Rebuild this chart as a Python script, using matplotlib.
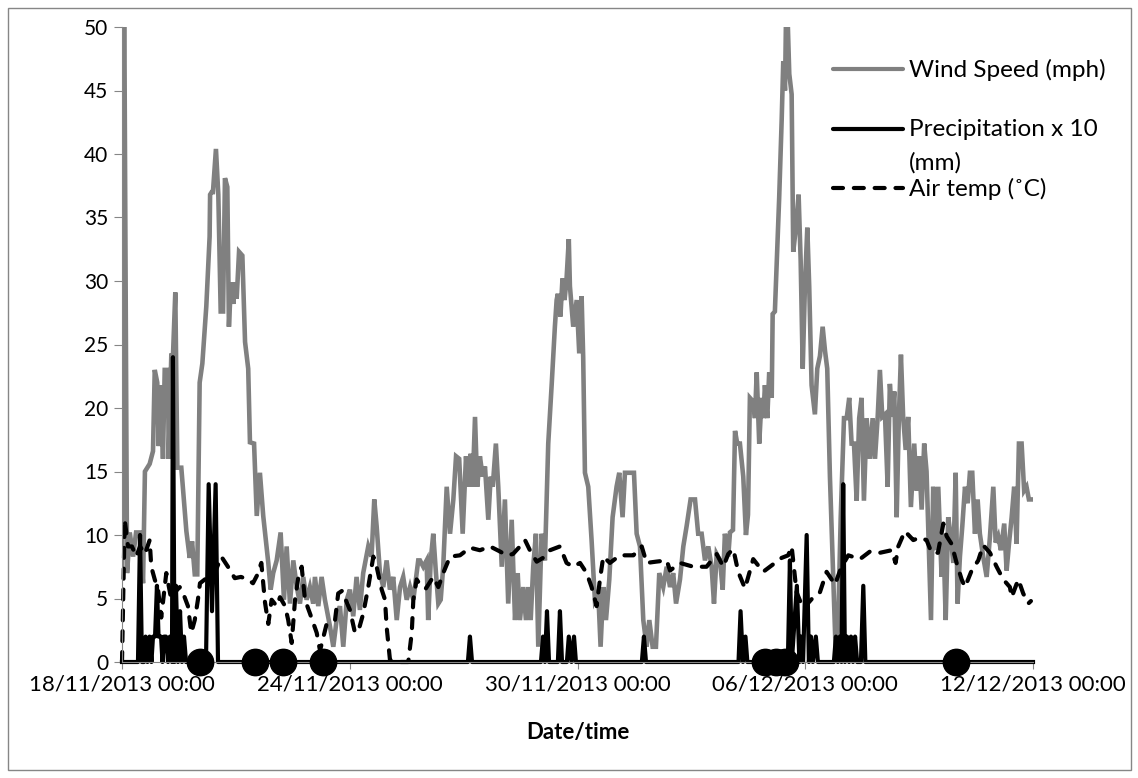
import matplotlib
matplotlib.use('Agg')
import matplotlib.pyplot as plt
from matplotlib.lines import Line2D
from matplotlib.patches import Rectangle
import numpy as np
import pandas as pd

# Data: times are hours after 18/11/2013 00:00
start = pd.Timestamp('2013-11-18 00:00')

wind_hours = [
    0.0, 1.3, 3.2, 4.9, 7.0, 8.9, 11.2, 13.3, 14.5, 17.5, 19.6, 20.7, 22.3, 23.2, 24.5, 25.9,
    27.0, 29.1, 29.5, 31.2, 32.2, 33.7, 35.0, 37.5, 40.7, 42.8, 44.3, 46.0, 47.6, 49.1, 50.8, 53.3,
    55.4, 55.7, 56.7, 57.5, 59.4, 60.9, 62.4, 63.9, 65.1, 66.6, 67.6, 68.9, 70.4, 71.4, 72.5, 74.0,
    76.1, 77.8, 79.8, 80.9, 83.5, 85.2, 87.2, 89.3, 92.5, 94.0, 95.6, 97.8, 100.3, 102.4, 104.1, 106.2,
    108.3, 110.4, 112.5, 114.6, 116.7, 118.8, 120.9, 122.0, 124.1, 126.2, 128.3, 131.5, 133.6, 135.7, 137.8, 139.9,
    142.1, 144.1, 146.2, 148.3, 150.4, 152.5, 155.7, 157.8, 159.5, 161.0, 163.1, 165.2, 167.3, 169.4, 171.5, 173.7,
    175.8, 177.8, 180.0, 182.1, 184.2, 187.3, 188.4, 190.5, 192.6, 193.6, 195.2, 196.8, 198.5, 200.0, 201.5, 203.1,
    205.3, 207.4, 209.5, 211.2, 213.2, 215.4, 217.5, 218.9, 220.5, 221.7, 223.2, 224.6, 226.3, 228.0, 229.5, 231.6,
    233.1, 234.4, 236.4, 237.9, 240.1, 242.1, 244.2, 246.4, 248.5, 250.2, 251.6, 253.7, 255.4, 256.9, 258.4, 260.0,
    261.7, 263.2, 265.3, 267.4, 269.5, 271.7, 273.7, 274.8, 275.6, 277.2, 278.5, 279.8, 281.0, 282.5, 283.2, 285.3,
    287.5, 289.1, 290.6, 291.6, 292.7, 294.8, 296.9, 299.0, 301.1, 302.6, 304.3, 306.0, 308.1, 310.2, 312.7, 314.4,
    316.5, 318.0, 320.1, 322.2, 323.7, 325.4, 327.5, 329.6, 331.7, 333.4, 335.5, 337.6, 339.7, 342.2, 344.4, 346.5,
    348.5, 350.3, 352.8, 354.9, 357.0, 359.5, 362.3, 364.3, 366.5, 368.6, 370.7, 372.8, 374.3, 376.0, 378.1, 379.8,
    381.2, 383.3, 384.4, 386.3, 387.6, 389.0, 390.7, 392.8, 394.5, 395.8, 397.0, 399.1, 400.2, 401.3, 402.9, 404.4,
    405.5, 406.5, 408.0, 409.2, 410.8, 411.4, 412.8, 414.3, 415.5, 417.1, 418.1, 419.2, 419.8, 420.9, 421.9, 423.4,
    424.4, 426.1, 427.8, 429.1, 430.4, 431.8, 433.3, 434.5, 436.0, 438.1, 439.6, 441.3, 443.0, 444.5, 445.9, 447.6,
    449.7, 451.4, 452.8, 454.4, 456.5, 458.2, 459.8, 461.3, 462.8, 464.5, 466.1, 467.6, 469.1, 470.8, 472.9, 474.6,
    476.1, 477.8, 479.2, 480.7, 482.4, 484.1, 485.5, 487.0, 488.3, 489.8, 491.2, 492.5, 493.9, 495.5, 497.1, 498.8,
    500.9, 502.4, 503.9, 505.6, 507.2, 508.7, 510.2, 511.5, 512.9, 514.5, 516.1, 518.2, 519.3, 520.8, 522.4, 524.1,
    525.6, 527.1, 528.3, 529.8, 531.3, 533.0, 534.7, 536.1, 537.6, 539.3, 541.0, 542.4, 544.5, 546.7, 548.8, 550.9,
    552.4, 554.0, 555.7, 557.8, 559.3, 560.8, 562.5, 564.1, 565.6, 567.1, 568.8, 570.4, 571.9, 573.4, 575.1,
]
wind_speed = [
    7.0, 55.0, 7.0, 10.2, 8.3, 10.2, 10.2, 6.2, 15.0, 15.6, 16.6, 23.0, 22.0, 17.0, 21.8, 16.0,
    23.0, 23.0, 16.0, 24.3, 24.0, 29.1, 15.3, 15.3, 10.3, 8.2, 9.5, 6.9, 6.9, 22.0, 23.5, 28.0,
    33.5, 36.8, 37.0, 37.0, 40.4, 36.8, 27.6, 27.6, 38.1, 37.4, 26.4, 29.9, 28.2, 29.9, 28.6, 32.3,
    32.0, 25.2, 23.1, 17.3, 17.2, 11.5, 14.9, 11.5, 7.8, 5.7, 7.0, 8.0, 10.2, 4.9, 9.1, 4.6,
    8.0, 6.0, 4.6, 6.7, 4.9, 5.9, 4.6, 6.7, 4.4, 6.7, 4.9, 2.8, 1.2, 3.3, 4.4, 1.2,
    4.9, 5.7, 3.6, 6.7, 4.1, 7.0, 9.1, 8.3, 12.8, 10.7, 7.0, 5.9, 8.0, 5.7, 6.7, 3.3,
    5.9, 6.7, 4.9, 5.9, 4.9, 8.0, 8.0, 7.5, 8.0, 3.3, 8.0, 10.1, 7.0, 4.6, 4.9, 7.5,
    13.8, 10.1, 12.8, 16.2, 16.0, 10.1, 16.2, 13.8, 16.4, 13.8, 19.3, 13.8, 16.2, 14.6, 15.4, 11.2,
    14.6, 13.8, 17.2, 13.8, 7.5, 12.8, 4.6, 11.2, 3.3, 7.0, 3.3, 5.9, 3.3, 5.9, 3.3, 7.5,
    10.1, 1.2, 10.1, 8.0, 17.2, 21.9, 26.4, 28.5, 29.0, 27.2, 30.2, 28.5, 30.0, 33.3, 29.6, 26.4,
    28.5, 24.3, 28.8, 24.0, 14.9, 13.8, 9.6, 4.9, 5.5, 1.2, 5.9, 3.3, 6.5, 11.4, 13.8, 14.9,
    11.4, 14.9, 14.9, 14.9, 14.9, 10.1, 9.1, 3.3, 1.2, 3.3, 1.2, 1.2, 7.0, 5.9, 7.5, 5.9,
    7.0, 4.6, 6.5, 9.1, 10.7, 12.8, 12.8, 10.1, 10.1, 8.0, 9.1, 7.5, 4.6, 8.5, 8.0, 5.7,
    10.1, 8.3, 10.2, 10.4, 18.2, 17.2, 17.2, 14.6, 10.0, 11.6, 20.8, 20.5, 19.2, 22.8, 17.2, 20.8,
    19.2, 21.8, 19.2, 22.8, 20.8, 27.4, 27.6, 32.6, 36.5, 42.7, 47.3, 45.0, 50.5, 50.5, 46.3, 44.7,
    32.3, 34.2, 36.8, 31.6, 23.1, 29.6, 34.2, 29.6, 21.8, 19.5, 23.1, 24.1, 26.4, 24.5, 23.1, 14.6,
    6.5, 0.2, 3.0, 11.3, 19.2, 19.2, 20.8, 17.2, 17.2, 12.7, 19.2, 20.8, 12.7, 19.2, 16.0, 19.2,
    16.0, 19.3, 23.0, 19.3, 19.5, 13.8, 21.9, 19.3, 21.3, 11.4, 19.3, 24.2, 19.3, 16.7, 19.3, 12.2,
    17.2, 13.5, 16.2, 12.0, 17.2, 15.0, 8.8, 3.3, 13.8, 8.8, 13.8, 6.7, 10.1, 3.3, 11.4, 9.8,
    7.8, 14.9, 4.6, 8.3, 10.7, 13.8, 12.5, 14.9, 14.9, 10.1, 12.8, 10.1, 8.3, 6.7, 9.9, 13.8,
    9.4, 9.9, 8.8, 10.9, 7.2, 9.3, 11.4, 13.8, 9.3, 17.2, 17.2, 13.5, 13.8, 12.8, 12.8,
]

precip_hours = [
    0.0, 10.1, 11.4, 12.6, 13.9, 14.9, 16.1, 17.4, 18.6, 19.6, 20.9, 22.1, 23.1, 24.7, 25.6, 26.6,
    27.8, 29.1, 30.3, 31.6, 32.2, 33.2, 34.1, 35.4, 36.7, 37.9, 39.2, 40.5, 53.1, 54.8, 56.9, 59.2,
    60.7, 218.7, 220.0, 221.3, 264.9, 266.2, 267.4, 268.7, 270.0, 275.6, 276.9, 278.2, 281.3, 282.5,
    284.2, 285.8, 287.0, 328.7, 330.0, 331.3, 389.8, 391.1, 392.6, 394.2, 395.4, 421.0, 422.3, 423.5,
    426.7, 428.3, 429.3, 430.6, 432.9, 434.3, 435.6, 436.8, 438.7, 440.0, 450.1, 451.4, 452.6, 453.9,
    454.9, 456.0, 457.1, 458.4, 459.7, 460.9, 462.2, 463.5, 464.8, 467.2, 468.7, 470.0, 576.0,
]
precip_x10 = [
    0, 0, 10, 0, 0, 2, 0, 2, 0, 2, 2, 6, 2, 2, 0, 2,
    2, 0, 2, 0, 24, 0, 6, 0, 4, 0, 2, 0, 0, 14, 4, 14,
    0, 0, 2, 0, 0, 2, 0, 4, 0, 0, 4, 0, 0, 2,
    0, 2, 0, 0, 2, 0, 0, 4, 0, 2, 0, 0, 8, 0,
    6, 0, 2, 0, 10, 0, 2, 0, 2, 0, 0, 2, 0, 2,
    0, 14, 0, 2, 0, 2, 0, 2, 0, 0, 6, 0, 0,
]

temp_hours = [
    0.0, 1.7, 3.8, 6.3, 9.0, 11.4, 14.5, 17.5, 18.5, 20.7, 22.8, 24.8, 28.0, 31.2, 33.5, 36.5,
    39.6, 41.7, 43.8, 46.0, 48.0, 49.3, 54.4, 58.6, 62.8, 67.0, 71.3, 75.2, 79.7, 82.8, 85.3, 88.1,
    90.4, 92.5, 94.6, 97.8, 99.9, 103.1, 105.1, 107.3, 109.4, 111.5, 113.6, 115.7, 118.9, 123.1, 125.2, 129.4,
    134.7, 136.7, 139.1, 144.1, 147.3, 149.8, 152.5, 155.7, 158.9, 161.0, 164.2, 166.3, 167.3, 169.4, 171.5, 181.0,
    183.2, 184.2, 186.3, 189.5, 192.2, 196.8, 200.0, 203.1, 207.4, 213.7, 220.0, 226.3, 232.7, 239.0, 243.2, 247.2,
    251.6, 254.8, 257.9, 262.2, 266.2, 270.6, 276.9, 281.1, 285.3, 289.6, 293.8, 296.9, 300.1, 302.2, 304.3, 308.5,
    314.8, 323.3, 328.6, 331.7, 337.6, 344.4, 346.5, 352.8, 361.2, 369.6, 376.0, 380.2, 383.3, 386.5, 389.6, 393.9,
    399.1, 405.4, 411.8, 417.1, 421.2, 423.4, 426.5, 430.7, 437.1, 441.3, 445.5, 450.8, 454.6, 459.2, 466.6, 472.9,
    479.2, 486.6, 489.1, 490.8, 495.0, 500.3, 504.5, 508.7, 511.9, 515.9, 519.3, 521.4, 524.5, 527.7, 530.9, 533.0,
    537.2, 541.4, 544.5, 548.8, 553.0, 557.2, 561.4, 562.5, 566.7, 569.8, 573.0, 574.7,
]
air_temp = [
    0.0, 11.2, 9.1, 9.1, 8.3, 9.1, 8.5, 9.6, 7.5, 6.5, 5.7, 3.5, 7.0, 4.9, 5.5, 5.9,
    5.1, 4.4, 2.3, 3.3, 4.9, 6.2, 6.7, 7.0, 8.3, 7.5, 6.6, 6.7, 6.5, 6.2, 6.8, 7.8,
    4.7, 3.0, 4.9, 4.4, 5.1, 4.4, 3.3, 1.5, 4.9, 6.7, 7.5, 4.9, 3.8, 2.3, 0.9, 3.0,
    3.3, 5.4, 5.6, 4.1, 2.3, 2.6, 3.8, 5.9, 8.3, 7.5, 5.7, 4.9, 2.8, 0.2, 0.0, 0.0,
    2.3, 4.9, 6.5, 5.9, 5.8, 6.7, 5.9, 7.0, 8.3, 8.4, 9.0, 8.8, 9.1, 8.7, 8.4, 8.5,
    9.1, 9.6, 8.8, 7.9, 8.2, 8.8, 9.1, 7.8, 7.5, 7.8, 7.0, 5.9, 4.4, 6.5, 8.3, 7.8,
    8.4, 8.4, 9.1, 7.8, 7.9, 8.0, 7.2, 7.8, 7.5, 7.5, 8.5, 7.5, 8.5, 8.9, 7.1, 5.8,
    8.1, 7.1, 7.7, 8.2, 8.4, 9.1, 5.5, 4.2, 5.1, 5.5, 7.1, 6.1, 7.4, 8.4, 8.1, 8.7,
    8.6, 8.8, 7.8, 9.1, 10.3, 9.6, 9.8, 9.6, 8.6, 8.6, 10.9, 9.9, 9.3, 7.8, 6.5, 5.9,
    7.2, 8.0, 9.2, 8.6, 7.5, 6.5, 5.9, 5.1, 6.5, 5.4, 4.6, 4.8,
]

# event markers drawn as black dots on the zero line
event_hours = [49.1, 83.9, 102.0, 127.3, 406.5, 413.5, 419.1, 527.1]
event_level = [0, 0, 0, 0, 0, 0, 0, 0]

tick_days = [0, 6, 12, 18, 24]
tick_labels = ['18/11/2013 00:00', '24/11/2013 00:00', '30/11/2013 00:00',
               '06/12/2013 00:00', '12/12/2013 00:00']
y_ticks = list(range(0, 55, 5))
legend_labels = ['Wind Speed (mph)', 'Precipitation x 10', '(mm)', 'Air temp (˚C)']


def to_dates(hours):
    return (start + pd.to_timedelta(np.array(hours), unit='h')).values


plt.rcParams['font.family'] = ['Lato', 'DejaVu Sans']
plt.rcParams['font.size'] = 16

W, H = 1138, 778
fig = plt.figure(figsize=(W / 100, H / 100), dpi=100)
ax = fig.add_axes([122 / W, 1 - 662 / H, (1033 - 122) / W, (662 - 27) / H])

grey = '#808080'
axis_grey = '#868686'
dash = (2.4, 2.6)

ax.plot(to_dates(wind_hours), wind_speed, color=grey, lw=3.3, solid_joinstyle='miter')
ax.plot(to_dates(precip_hours), precip_x10, color='black', lw=3.0, clip_on=False)
ax.plot(to_dates(temp_hours), air_temp, color='black', lw=3.0, dashes=dash,
        dash_capstyle='round', clip_on=False)
ax.plot(to_dates(event_hours), event_level, 'o', color='black', ms=19, ls='none', clip_on=False,
        zorder=5)

# axes look like an Excel chart
ax.set_ylim(0, 50)
ax.set_xlim(start, start + pd.Timedelta(days=24))
ax.set_yticks(y_ticks)
ax.set_xticks([start + pd.Timedelta(days=d) for d in tick_days])
ax.set_xticklabels(tick_labels)
for side in ['top', 'right']:
    ax.spines[side].set_visible(False)
for side in ['left', 'bottom']:
    ax.spines[side].set_color(axis_grey)
ax.tick_params(axis='y', length=6, color=axis_grey, pad=4, labelsize=15)
ax.tick_params(axis='x', length=5, color=axis_grey, pad=4, labelsize=16)

ax.set_xlabel('Date/time', fontweight='bold', fontsize=16)
ax.xaxis.set_label_coords(0.5, (662 - 733) / 635)
ax.xaxis.label.set_va('center')

# legend, laid out like the Excel one
lx0, lx1, tx = 833 / W, 903 / W, 909 / W
rows = [(69, grey, None), (129, 'black', None), (188, 'black', dash)]
for (y, c, d) in rows:
    ln = Line2D([lx0, lx1], [1 - y / H, 1 - y / H], transform=fig.transFigure, color=c, lw=3.0,
                solid_capstyle='round')
    if d:
        ln.set_dashes(d)
        ln.set_dash_capstyle('round')
    fig.add_artist(ln)
for label, y in zip(legend_labels, [70, 130, 163, 189]):
    fig.text(tx, 1 - y / H, label, va='center', ha='left', fontsize=17.5)

# light border round the whole chart
fig.add_artist(Rectangle((8 / W, 1 - 770 / H), (1131 - 8) / W, (770 - 8) / H,
                         transform=fig.transFigure, fill=False, edgecolor=axis_grey, lw=1))

fig.savefig('out.png', dpi=100)
